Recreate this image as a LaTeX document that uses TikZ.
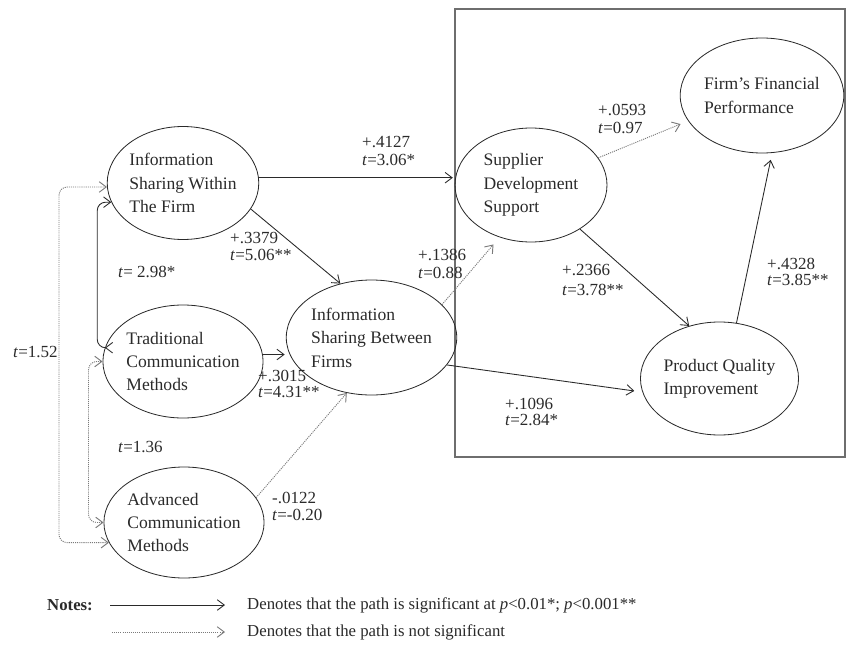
\documentclass[tikz,border=0pt]{standalone}
\usepackage{fontspec}
\setmainfont{Liberation Serif}
\usetikzlibrary{arrows.meta,shapes.geometric}
\definecolor{ink}{HTML}{2A2A2A}
\definecolor{framec}{HTML}{6E6E6E}
\definecolor{dotc}{HTML}{7A7A7A}

\begin{document}
\begin{tikzpicture}[x=0.03cm,y=-0.03cm,
  oval/.style 2 args={ellipse, draw=ink, line width=0.7pt, inner sep=0pt,
    minimum width=#1*0.03cm, minimum height=#2*0.03cm, align=left,
    font=\fontsize{15}{20}\selectfont, text=ink},
  barb/.tip={Straight Barb[length=6pt,width=9pt]},
  sig/.style={-barb, draw=ink, line width=0.75pt},
  nonsig/.style={-barb, draw=dotc, line width=0.8pt, dash pattern=on 0.9pt off 0.9pt},
  sigboth/.style={barb-barb, draw=ink, line width=0.75pt, rounded corners=7pt},
  nonsigboth/.style={barb-barb, draw=dotc, line width=0.8pt, dash pattern=on 0.9pt off 0.9pt, rounded corners=7pt},
  coef/.style={font=\fontsize{14.5}{#1}\selectfont, align=left, anchor=west, inner sep=0pt, text=ink},
  coef/.default=15pt,
  notes/.style={font=\fontsize{14.3}{17}\selectfont, anchor=west, inner sep=0pt, text=ink},
  boxline/.style={draw=framec, line width=0.9pt}
]
\useasboundingbox (0,0) rectangle (848,646);

% enclosing frame of the outcome constructs
\draw[boxline] (455,9) rectangle (845,457);

% constructs
\node[oval={146}{113}] (A) at (183,183) {Information\\Sharing Within\\The Firm};
\node[oval={146}{113}] (B) at (183,361.5) {Traditional\\Communication\\Methods};
\node[oval={144}{111}] (C) at (184,522.5) {Advanced\\Communication\\Methods};
\node[oval={147}{115}] (D) at (371.5,337.5) {Information\\Sharing Between\\Firms};
\node[oval={152}{114}] (E) at (531,185) {Supplier\\Development\\Support};
\node[oval={150}{115}] (F) at (762,95.5) {Firm’s Financial\\Performance};
\node[oval={149}{113}] (G) at (719.5,378.5) {Product Quality\\Improvement};

% structural paths
\draw[sig, shorten >=1.5pt] (A.4) -- (A.4 -| E.west);
\draw[sig] (A.-21) -- (D.120);
\draw[sig, shorten >=1pt] (B.5) -- (B.5 -| D.west);
\draw[nonsig] (C.19) -- (D.246);
\draw[nonsig, shorten >=8pt] (D.25) -- (E.239);
\draw[sig, shorten >=7pt] (D.-20) -- (G.190);
\draw[sig] (E.-42) -- (G.120);
\draw[sig, shorten >=6pt] (G.73) -- (F.-80);
\draw[nonsig, shorten >=7pt] (E.22) -- (F.199);

% correlations among the communication constructs
\draw[sigboth] (A.195) -- ++(-14,0) |- (B.170);
\draw[nonsigboth] (B.180) -- ++(-14,0) |- (C.180);
\draw[nonsigboth] (A.183) -- ++(-48,0) |- (C.195);

% path coefficients
\node[coef=15.4pt] (l1) at (362,151) {+.4127\\\textit{t}=3.06*};
\node[coef=14.5pt] (l2) at (230,246.5) {+.3379\\\textit{t}=5.06**};
\node[coef] (l3) at (118,272) {\textit{t}= 2.98*};
\node[coef=14pt] (l4) at (258,384) {+.3015\\\textit{t}=4.31**};
\node[coef=14.5pt] (l5) at (272,506.5) {-.0122\\\textit{t}=-0.20};
\node[coef=15.4pt] (l6) at (418,264) {+.1386\\\textit{t}=0.88};
\node[coef=15.4pt] (l7) at (598,119) {+.0593\\\textit{t}=0.97};
\node[coef=17pt] (l8) at (562,280) {+.2366\\\textit{t}=3.78**};
\node[coef=13.5pt] (l9) at (767,272) {+.4328\\\textit{t}=3.85**};
\node[coef=13.5pt] (l10) at (505,412) {+.1096\\\textit{t}=2.84*};
\node[coef] (l11) at (118,447) {\textit{t}=1.36};
\node[coef] (l12) at (13,352) {\textit{t}=1.52};

% key
\node[notes, font=\fontsize{14.3}{17}\selectfont\bfseries] (key) at (47,605) {Notes:};
\coordinate (k1a) at (110,605);
\coordinate (k1b) at (225,605);
\coordinate (k2a) at (112,632);
\coordinate (k2b) at (225,632);
\draw[sig] (k1a) -- (k1b);
\draw[nonsig] (k2a) -- (k2b);
\node[notes] (k1t) at (247,605) {Denotes that the path is significant at \textit{p}<0.01*; \textit{p}<0.001**};
\node[notes] (k2t) at (247,632) {Denotes that the path is not significant};
\end{tikzpicture}
\end{document}
